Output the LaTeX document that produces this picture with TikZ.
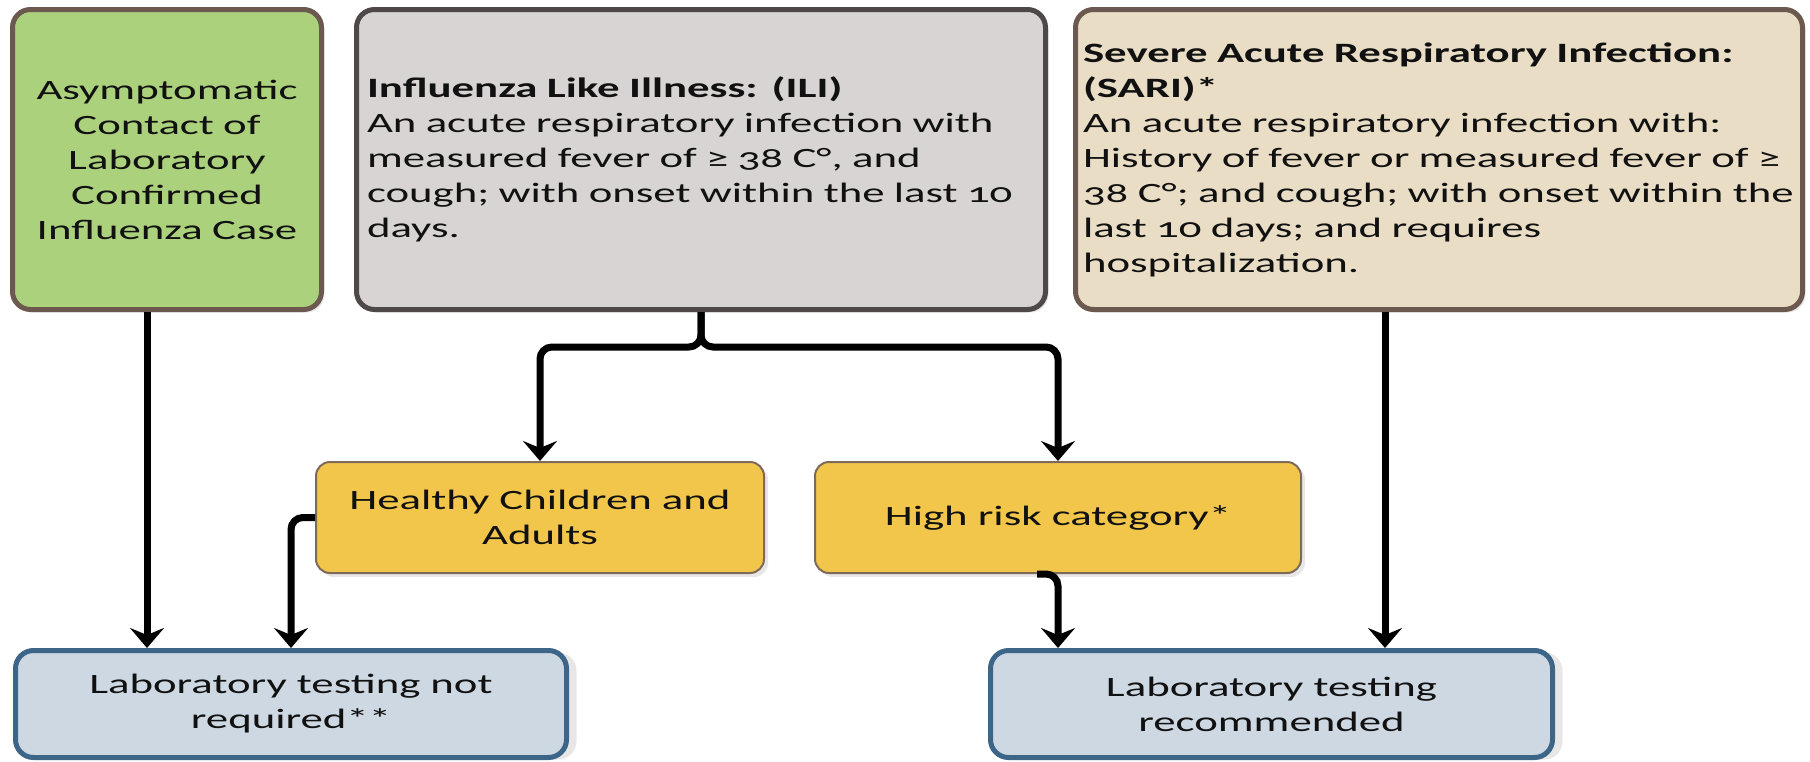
\documentclass[tikz,border=0pt]{standalone}
\usepackage{fontspec}
\setmainfont{Carlito}[FakeStretch=1.6, Numbers=OldStyle]
\usetikzlibrary{arrows.meta,shadows,calc}
\definecolor{gfill}{HTML}{ABD17C}
\definecolor{gbord}{HTML}{6B584E}
\definecolor{ifill}{HTML}{D9D4D4}
\definecolor{ibord}{HTML}{4E4848}
\definecolor{sfill}{HTML}{E9DDC5}
\definecolor{yfill}{HTML}{F2C64A}
\definecolor{ybord}{HTML}{7D6A58}
\definecolor{lfill}{HTML}{CDD8E2}
\definecolor{lbord}{HTML}{3D6588}
\definecolor{txt}{HTML}{111111}
\newcommand{\fz}{\fontsize{28}{35}\selectfont}
\tikzset{
  topbox/.style={rounded corners=18pt, line width=5pt, font=\fz, text=txt,
    minimum height=300pt, drop shadow={shadow xshift=3pt, shadow yshift=-3pt, fill=black!18}},
  greenbox/.style={topbox, draw=gbord, fill=gfill, minimum width=309pt, text width=289pt, align=center},
  ilibox/.style={topbox, draw=ibord, fill=ifill, minimum width=689pt, inner xsep=10.5pt, text width=668pt, align=left},
  saribox/.style={topbox, draw=gbord, fill=sfill, minimum width=727pt, inner xsep=7.5pt, text width=712pt, align=left},
  midbox/.style={rounded corners=14pt, line width=2pt, draw=ybord, fill=yfill, font=\fz, text=txt,
    minimum height=111pt, align=center, drop shadow={shadow xshift=4pt, shadow yshift=-4pt, fill=black!18}},
  labbox/.style={rounded corners=18pt, line width=5pt, draw=lbord, fill=lfill, font=\fz, text=txt,
    minimum height=107pt, align=center, drop shadow={shadow xshift=10pt, shadow yshift=-2pt, fill=black!18}},
  conn/.style={line width=7pt, draw=black, rounded corners=12pt,
    -{Stealth[length=20pt,width=34pt,inset=7pt]}}
}
\begin{document}
\begin{tikzpicture}[x=1pt,y=-1pt]
\useasboundingbox[fill=white] (0,0) rectangle (1810,761);

\node[greenbox] (green) at (167,159.5) {Asymptomatic\\Contact of\\Laboratory\\Confirmed\\Influenza Case};
\node[ilibox] (ili) at (701,159.5) {\textbf{Influenza Like Illness: (ILI)}\\An acute respiratory infection with\\measured fever of ≥ 38 C°, and\\cough; with onset within the last 10\\days.};
\node[saribox] (sari) at (1439,159.5) {\textbf{Severe Acute Respiratory Infection:}\\\textbf{(SARI)*}\\An acute respiratory infection with:\\History of fever or measured fever of ≥\\38 C°; and cough; with onset within the\\last 10 days; and requires\\hospitalization.};

\node[midbox, minimum width=448pt] (healthy) at (540,517.5) {Healthy Children and\\Adults};
\node[midbox, minimum width=486pt] (hr) at (1058,517.5) {High risk category*};

\node[labbox, minimum width=551pt] (nr) at (291,704) {Laboratory testing not\\required**};
\node[labbox, minimum width=562pt] (rec) at (1271.5,704) {Laboratory testing\\recommended};

\coordinate (bj) at (701,347);
\draw[conn] (ili.south) -- (ili.south |- bj) -| (healthy.north);
\draw[conn] (ili.south) -- (ili.south |- bj) -| (hr.north);

\draw[conn] ([xshift=-20pt]green.south) -- ([xshift=-20pt]green.south |- nr.north);
\draw[conn] (healthy.west) -| (nr.north);
\draw[conn] ([xshift=-21pt]hr.south) -- (hr.south) -- (hr.south |- rec.north);
\draw[conn] ([xshift=-54pt]sari.south) -- ([xshift=-54pt]sari.south |- rec.north);
\end{tikzpicture}
\end{document}
